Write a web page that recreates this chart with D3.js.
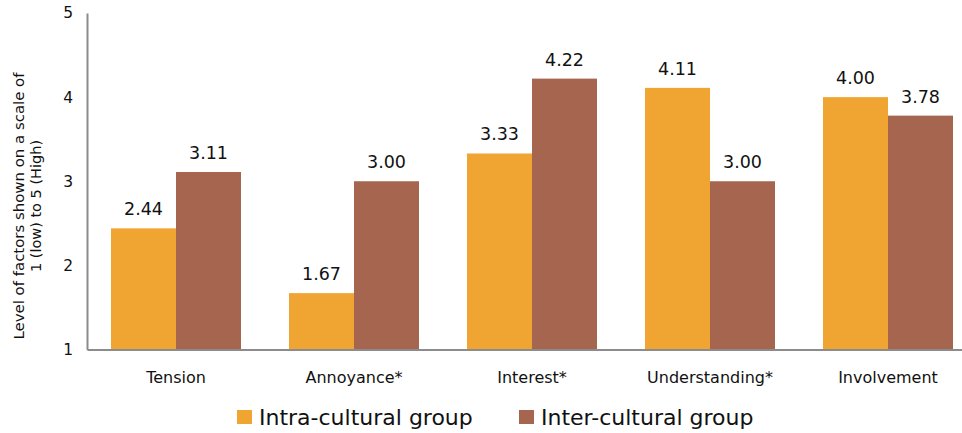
<!DOCTYPE html>
<html>
<head>
<meta charset="utf-8">
<script src="https://cdn.jsdelivr.net/npm/d3@7"></script>
<style>
  html, body { margin: 0; padding: 0; background: #fff; }
  svg { display: block; font-family: "DejaVu Sans", sans-serif; }
</style>
</head>
<body>
<svg id="chart" width="962" height="433"></svg>
<script>
const categories = ["Tension", "Annoyance*", "Interest*", "Understanding*", "Involvement"];
const seriesNames = ["Intra-cultural group", "Inter-cultural group"];
const intraValues = [2.44, 1.67, 3.33, 4.11, 4.00];
const interValues = [3.11, 3.00, 4.22, 3.00, 3.78];
const yTicks = [1, 2, 3, 4, 5];
const colors = ["#F0A431", "#A5654F"];

const svg = d3.select("#chart");

// plot area (the category band runs slightly past the right edge)
const plotLeft = 87, plotRight = 977, plotTop = 13, plotBottom = 349.5;

const x = d3.scaleBand().domain(categories).range([plotLeft, plotRight]).padding(0);
const barW = 65;
const y = d3.scaleLinear().domain([1, 5]).range([plotBottom, plotTop]);

const rows = categories.map((c, i) => ({ cat: c, vals: [intraValues[i], interValues[i]] }));

// bars with value labels
const g = svg.append("g");
rows.forEach(r => {
  const cx = x(r.cat) + x.bandwidth() / 2;
  r.vals.forEach((v, j) => {
    const bx = cx - barW + j * barW;
    g.append("rect")
      .attr("x", bx).attr("y", y(v))
      .attr("width", barW).attr("height", y(1) - y(v))
      .attr("fill", colors[j]);
    g.append("text")
      .attr("x", bx + barW / 2).attr("y", y(v) - 13)
      .attr("text-anchor", "middle")
      .attr("font-size", 17.5)
      .attr("fill", "#111")
      .text(v.toFixed(2));
  });
});

// y axis
const yAxis = d3.axisLeft(y).tickValues(yTicks).tickSize(0).tickPadding(14).tickFormat(d3.format("d"));
const ya = svg.append("g").attr("transform", `translate(${plotLeft},0)`).call(yAxis);
ya.select(".domain").attr("stroke", "#8c8c8c").attr("stroke-width", 2);
ya.selectAll("text").attr("font-size", 15.5).attr("fill", "#111").attr("font-family", "DejaVu Sans, sans-serif");

// x axis
const xAxis = d3.axisBottom(x).tickSize(0).tickPadding(22);
const xa = svg.append("g").attr("transform", `translate(0,${plotBottom})`).call(xAxis);
xa.select(".domain").attr("stroke", "#8c8c8c").attr("stroke-width", 2);
xa.selectAll("text").attr("font-size", 16).attr("fill", "#111").attr("font-family", "DejaVu Sans, sans-serif");

// y axis title
const title = svg.append("text")
  .attr("transform", "translate(0,206) rotate(-90)")
  .attr("text-anchor", "middle")
  .attr("font-size", 14.5)
  .attr("fill", "#111");
title.append("tspan").attr("x", 0).attr("y", 24)
  .attr("textLength", 267).attr("lengthAdjust", "spacingAndGlyphs")
  .text("Level of factors shown on a scale of");
title.append("tspan").attr("x", 0).attr("y", 41)
  .text("1 (low) to 5 (High)");

// legend
const legendItems = [{ x: 237, tx: 259 }, { x: 519, tx: 541 }];
seriesNames.forEach((name, i) => {
  const lg = svg.append("g");
  lg.append("rect").attr("x", legendItems[i].x).attr("y", 410).attr("width", 15).attr("height", 14).attr("fill", colors[i]);
  lg.append("text").attr("x", legendItems[i].tx).attr("y", 425)
    .attr("font-size", 22).attr("fill", "#111").text(name);
});
</script>
</body>
</html>
